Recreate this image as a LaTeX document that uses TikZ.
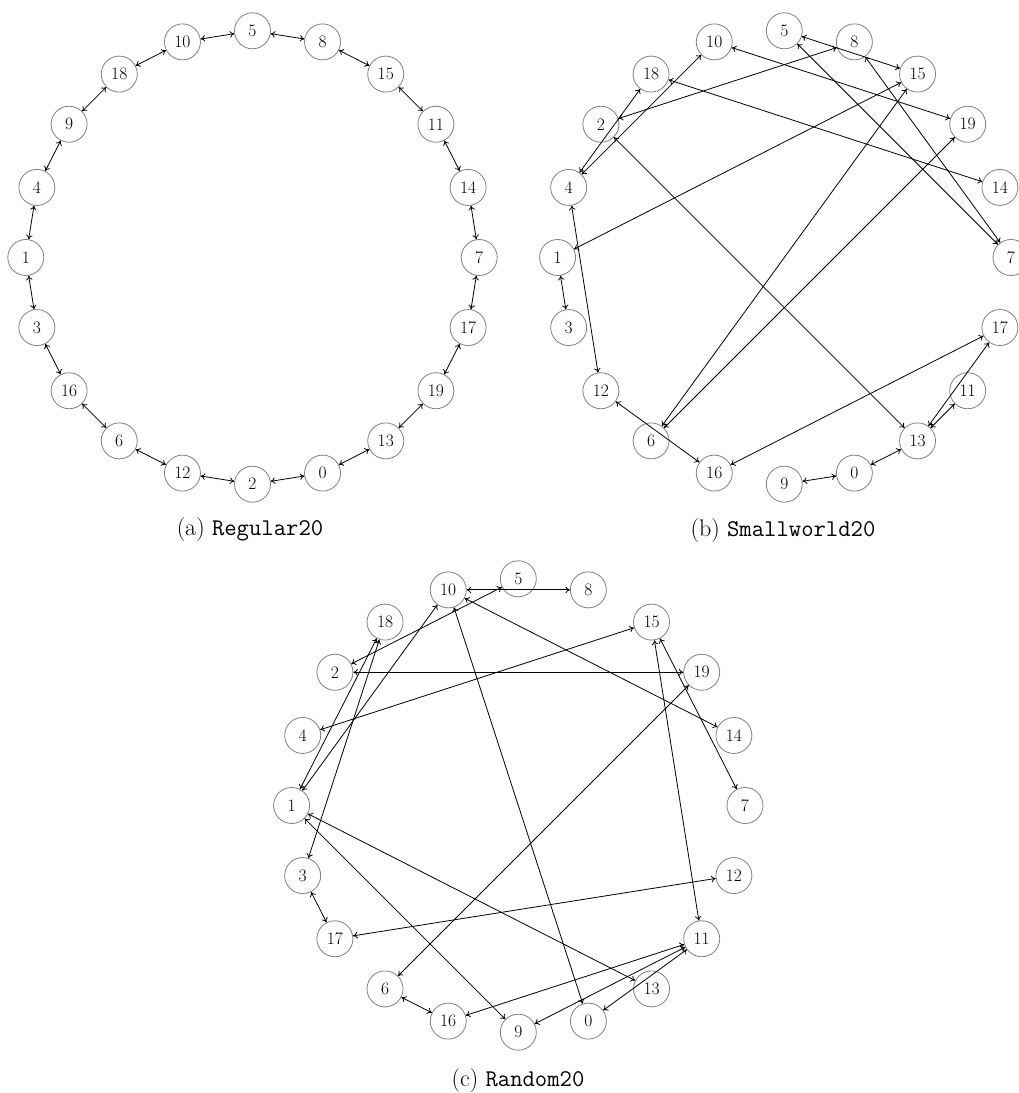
\documentclass[tikz,border=0pt]{standalone}
\usetikzlibrary{arrows.meta}
\begin{document}
\begin{tikzpicture}[
  vtx/.style={circle,draw=black!50,line width=0.8pt,minimum size=36pt,inner sep=0pt,font=\fontsize{17.5}{20}\selectfont},
  edge/.style={line width=0.8pt,{To[length=4.5pt,width=6.5pt]}-{To[length=4.5pt,width=6.5pt]}},
  captxt/.style={anchor=base,font=\fontsize{24}{28}\selectfont}
]
\useasboundingbox (0pt,0pt) rectangle (1019pt,1093pt);
% (a) Regular20
\foreach \lab [count=\k from 0] in {5,10,18,9,4,1,3,16,6,12,2,0,13,19,17,7,14,11,15,8}
  \node[vtx] (a\lab) at ([shift={(252.5pt,835.5pt)}]{90+18*\k}:226.7pt) {\lab};
\foreach \u/\v in {5/10,10/18,18/9,9/4,4/1,1/3,3/16,16/6,6/12,12/2,2/0,0/13,13/19,19/17,17/7,7/14,14/11,11/15,15/8,8/5}
  \draw[edge] (a\u) -- (a\v);
\node[captxt] (capa) at (250pt,557pt) {(a) \texttt{Regular20}};
% (b) Smallworld20
\foreach \lab [count=\k from 0] in {5,10,18,2,4,1,3,12,6,16,9,0,13,11,17,7,14,19,15,8}
  \node[vtx] (b\lab) at ([shift={(784.3pt,835.5pt)}]{90+18*\k}:226.7pt) {\lab};
\foreach \u/\v in {1/3,4/12,1/15,2/8,2/13,4/18,4/10,10/19,18/14,5/15,5/7,8/7,6/15,6/19,12/16,16/17,13/17,13/11,0/13,9/0}
  \draw[edge] (b\u) -- (b\v);
\node[captxt] (capb) at (783pt,556pt) {(b) \texttt{Smallworld20}};
% (c) Random20
\foreach \lab [count=\k from 0] in {5,10,18,2,4,1,3,17,6,16,9,0,13,11,12,7,14,19,15,8}
  \node[vtx] (c\lab) at ([shift={(518.3pt,287.5pt)}]{90+18*\k}:226.7pt) {\lab};
\foreach \u/\v in {10/8,2/5,2/19,4/15,10/14,15/7,15/11,18/1,18/3,10/1,10/0,19/6,1/13,1/9,3/17,17/12,6/16,16/11,9/11,0/11}
  \draw[edge] (c\u) -- (c\v);
\node[captxt] (capc) at (518pt,6.5pt) {(c) \texttt{Random20}};
\end{tikzpicture}
\end{document}
